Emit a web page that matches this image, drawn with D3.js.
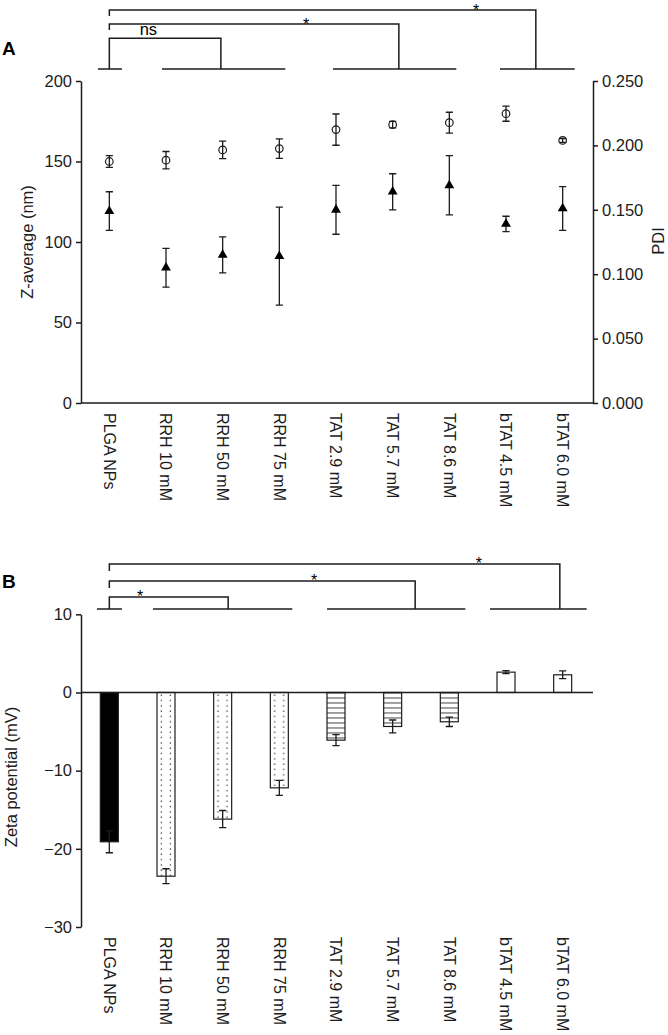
<!DOCTYPE html>
<html><head><meta charset="utf-8">
<script src="https://cdn.jsdelivr.net/npm/d3@7"></script>
<style>body{margin:0;background:#fff}svg{display:block}</style>
</head><body><svg id="c" width="668" height="1035"></svg>
<script>
// ---------- DATA ----------
const categories = ["PLGA NPs","RRH 10 mM","RRH 50 mM","RRH 75 mM","TAT 2.9 mM","TAT 5.7 mM","TAT 8.6 mM","bTAT 4.5 mM","bTAT 6.0 mM"];
const groups = ["PLGA","RRH","RRH","RRH","TAT","TAT","TAT","bTAT","bTAT"];
const zAverage    = [150.0, 150.8, 157.2, 158.0, 169.8, 172.9, 174.1, 179.7, 163.1];
const zAverageErr = [3.7, 5.4, 5.4, 6.0, 9.7, 2.0, 6.5, 4.7, 1.2];
const pdi    = [0.149, 0.105, 0.115, 0.114, 0.150, 0.164, 0.169, 0.139, 0.151];
const pdiErr = [0.015, 0.015, 0.014, 0.038, 0.019, 0.014, 0.023, 0.006, 0.017];
const zeta    = [-19.1, -23.5, -16.2, -12.2, -6.1, -4.35, -3.75, 2.6, 2.26];
const zetaErr = [1.4, 0.95, 1.1, 0.95, 0.7, 0.83, 0.6, 0.2, 0.5];
const zTicks = [0, 50, 100, 150, 200];
const pdiTicks = [0, 0.05, 0.10, 0.15, 0.20, 0.25];
const zetaTicks = [-30, -20, -10, 0, 10];
const sigGroups = ["PLGA","RRH","TAT","bTAT"];
const sigTop = ["ns","*","*"];      // PLGA vs RRH, TAT, bTAT
const sigBottom = ["*","*","*"];

// ---------- LAYOUT ----------
const FONT = "'Liberation Sans', Arial, Helvetica, sans-serif";
const INK = "#1c1c1c";
const L = 81, R = 593;
const svg = d3.select("#c");
const x = d3.scaleBand().domain(categories).range([L, 591]);
const cx = c => x(c) + x.bandwidth()/2;

function groupExtent(g){
  const idx = groups.map((d,i)=>d===g?i:-1).filter(i=>i>=0);
  return [cx(categories[idx[0]]), cx(categories[idx[idx.length-1]])];
}

function drawBrackets(cfg, labels){
  const gB = svg.append("g").attr("stroke", INK).attr("stroke-width", 1.5).attr("fill","none");
  const verts = [];
  sigGroups.forEach((g,i)=>{
    const [a,b] = groupExtent(g);
    const [pl, pr] = cfg.pads[i];
    gB.append("line").attr("x1", a+pl).attr("x2", b+pr).attr("y1", cfg.base).attr("y2", cfg.base);
    verts.push(i===0 ? a : (a+b)/2 + cfg.vOff[i]);
  });
  labels.forEach((lab,k)=>{
    const x0 = verts[0], x1 = verts[k+1], y = cfg.levels[k];
    const yl = k===0 ? cfg.base : y + cfg.drop;
    gB.append("path").attr("d", `M${x0},${yl}V${y}H${x1}V${cfg.base}`);
    const lx = x0 + (x1-x0)*cfg.labelAt[k];
    const isStar = lab === "*";
    svg.append("text").attr("x", lx).attr("y", isStar ? y + cfg.starDy : y - 3.5)
      .attr("text-anchor","middle").attr("font-family", FONT)
      .attr("font-size", isStar ? 16 : 16.5).attr("fill", "#000").text(lab);
  });
}

function styleAxis(g){
  g.selectAll("path,line").attr("stroke", INK).attr("stroke-width", 1.5);
  g.selectAll("text").attr("font-family", FONT).attr("font-size", 16.5).attr("fill", INK);
}

function xLabels(y0){
  svg.append("g").selectAll("text").data(categories).join("text")
    .attr("transform", d => `translate(${cx(d)},${y0}) rotate(90)`)
    .attr("dy","0.35em").attr("font-family", FONT).attr("font-size", 16).attr("fill", INK)
    .text(d => d);
}

function vText(t, x0, y0, rot){
  svg.append("text").attr("transform", `translate(${x0},${y0}) rotate(${rot})`)
    .attr("text-anchor","middle").attr("dy","0.35em").attr("font-family", FONT)
    .attr("font-size", 16.5).attr("fill", INK).text(t);
}

// ---------- PANEL A ----------
const T0 = 81, T1 = 403;
const yL = d3.scaleLinear().domain([0, 200]).range([T1, T0]);
const yR = d3.scaleLinear().domain([0, 0.25]).range([T1, T0]);

svg.append("text").attr("x", 2).attr("y", 55).attr("font-family", FONT)
  .attr("font-weight","bold").attr("font-size", 19).attr("fill", "#000").text("A");

drawBrackets({base:69, levels:[38.3, 24, 10], drop:6,
  pads:[[-11.4,12.6],[-4,6],[-3,7],[-6,12]], vOff:[0,-1.8,6.2,1.5],
  labelAt:[0.35,0.68,0.86], starDy:6}, sigTop);

const axL = svg.append("g").attr("transform", `translate(${L},0)`)
  .call(d3.axisLeft(yL).tickValues(zTicks).tickSize(5).tickSizeOuter(0).tickPadding(4));
styleAxis(axL);
const axR = svg.append("g").attr("transform", `translate(${R},0)`)
  .call(d3.axisRight(yR).tickValues(pdiTicks).tickFormat(d3.format(".3f")).tickSize(5).tickSizeOuter(0).tickPadding(4));
styleAxis(axR);
svg.append("line").attr("x1", L).attr("x2", R).attr("y1", T1).attr("y2", T1)
  .attr("stroke", INK).attr("stroke-width", 1.5);

function errBars(vals, errs, scale, cap){
  const g = svg.append("g").attr("stroke", INK).attr("stroke-width", 1.3).attr("fill","none");
  vals.forEach((v,i)=>{
    const c = cx(categories[i]), t = scale(v+errs[i]), b = scale(v-errs[i]);
    g.append("path").attr("d", `M${c},${t}V${b}M${c-cap},${t}H${c+cap}M${c-cap},${b}H${c+cap}`);
  });
}
errBars(zAverage, zAverageErr, yL, 3.6);
errBars(pdi, pdiErr, yR, 3.6);

svg.append("g").selectAll("circle").data(zAverage).join("circle")
  .attr("cx", (d,i)=>cx(categories[i])).attr("cy", d=>yL(d)).attr("r", 3.8)
  .attr("fill","none").attr("stroke", INK).attr("stroke-width", 1.2);

const tri = d3.symbol().type(d3.symbolTriangle).size(42);
svg.append("g").selectAll("path").data(pdi).join("path")
  .attr("d", tri).attr("transform", (d,i)=>`translate(${cx(categories[i])},${yR(d)})`)
  .attr("fill", "#000");

vText("Z-average (nm)", 27.5, 242, -90);
vText("PDI", 658, 241, -90);
xLabels(413);

// ---------- PANEL B ----------
const B0 = 614.3, B1 = 927;
const yZ = d3.scaleLinear().domain([-30, 10]).range([B1, B0]);

svg.append("text").attr("x", 2).attr("y", 588).attr("font-family", FONT)
  .attr("font-weight","bold").attr("font-size", 19).attr("fill", "#000").text("B");

drawBrackets({base:609, levels:[597, 581, 564], drop:7,
  pads:[[-12.4,12.6],[-13,13],[-9,16],[-16,24]], vOff:[0,5.5,22.5,25.5],
  labelAt:[0.26,0.67,0.82], starDy:5}, sigBottom);

const defs = svg.append("defs");
const bw = 18;
const zero = yZ(0);
categories.forEach((c,i)=>{
  const left = cx(c) - bw/2;
  if (groups[i] === "RRH"){
    const p = defs.append("pattern").attr("id","p"+i).attr("patternUnits","userSpaceOnUse")
      .attr("x", left).attr("y", zero).attr("width", 9).attr("height", 5.3);
    p.append("rect").attr("width",9).attr("height",5.3).attr("fill","#fff");
    p.append("circle").attr("cx",4.4).attr("cy",2.8).attr("r",0.75).attr("fill","#555");
  } else if (groups[i] === "TAT"){
    const p = defs.append("pattern").attr("id","p"+i).attr("patternUnits","userSpaceOnUse")
      .attr("x", left).attr("y", zero).attr("width", bw).attr("height", 5);
    p.append("rect").attr("width",bw).attr("height",5).attr("fill","#fff");
    p.append("line").attr("x1",0).attr("x2",bw).attr("y1",0.5).attr("y2",0.5)
      .attr("stroke","#444").attr("stroke-width",1);
  }
});
const fillFor = (g,i) => g==="PLGA" ? "#000" : (g==="bTAT" ? "#fff" : `url(#p${i})`);

svg.append("g").selectAll("rect").data(zeta).join("rect")
  .attr("x", (d,i)=>cx(categories[i]) - bw/2).attr("width", bw)
  .attr("y", d=>Math.min(yZ(d), zero)).attr("height", d=>Math.abs(yZ(d)-zero))
  .attr("fill", (d,i)=>fillFor(groups[i], i)).attr("stroke", INK).attr("stroke-width", 1.2);

errBars(zeta, zetaErr, yZ, 3.6);

const axZ = svg.append("g").attr("transform", `translate(${L},0)`)
  .call(d3.axisLeft(yZ).tickValues(zetaTicks).tickSize(5).tickSizeOuter(0).tickPadding(4));
styleAxis(axZ);
svg.append("line").attr("x1", L).attr("x2", R).attr("y1", zero).attr("y2", zero)
  .attr("stroke", INK).attr("stroke-width", 1.5);

vText("Zeta potential (mV)", 11, 777, -90);
xLabels(937);
</script></body></html>
